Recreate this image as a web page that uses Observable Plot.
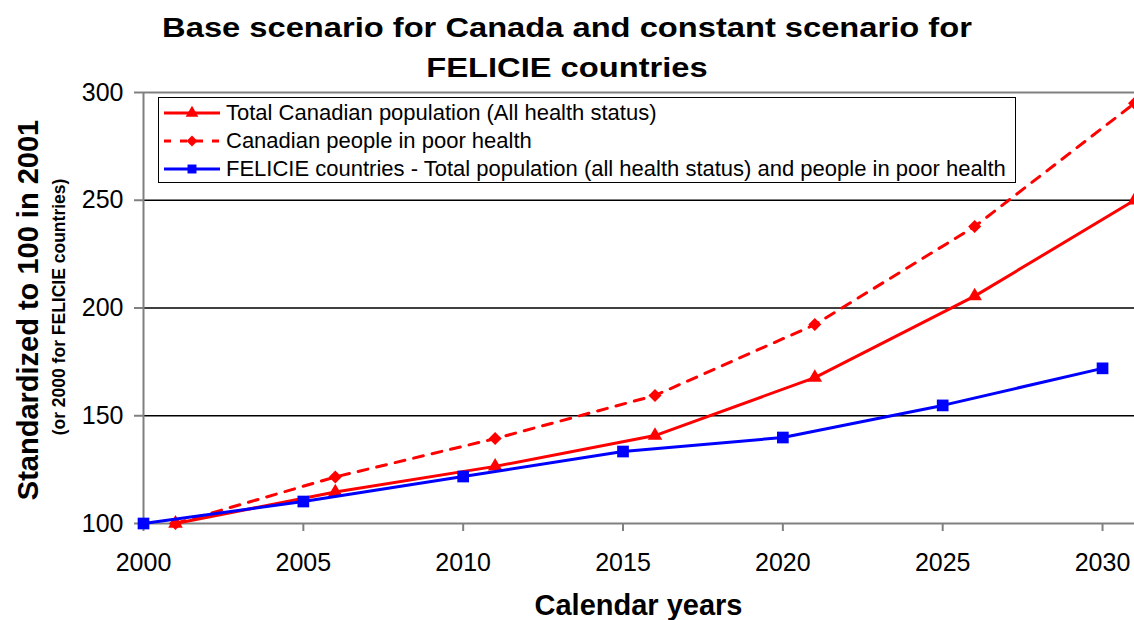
<!DOCTYPE html>
<html><head><meta charset="utf-8">
<script src="https://cdn.jsdelivr.net/npm/d3@7"></script>
<script src="https://cdn.jsdelivr.net/npm/@observablehq/plot@0.6"></script>
<style>
body{margin:0;width:1134px;height:620px;overflow:hidden;background:#fff;font-family:"Liberation Sans",Arial,sans-serif;position:relative}
#chart{position:absolute;left:0;top:0}
#title{position:absolute;top:8px;left:0;width:1134px;text-align:center;font-weight:bold;font-size:27px;line-height:40px;color:#000;transform:scaleX(1.21);transform-origin:567px 0}
#xlabel{position:absolute;top:588px;left:0;width:1134px;padding-left:143px;box-sizing:border-box;text-align:center;font-weight:bold;font-size:29px;line-height:34px}
.ylab{position:absolute;white-space:nowrap;font-weight:bold;transform:translate(-50%,-50%) rotate(-90deg);line-height:1}
#legend{position:absolute;left:158px;top:97px;width:858px;height:86px;border:1px solid #000;background:#fff;box-sizing:border-box}
.row{position:absolute;left:4px;height:28px;display:flex;align-items:center;font-size:22px;white-space:nowrap}
.row svg{margin-right:5px}
</style></head>
<body>
<div id="chart"></div>
<div id="title">Base scenario for Canada and constant scenario for<br>FELICIE countries</div>
<div class="ylab" style="left:28px;top:310px;font-size:29px">Standardized to 100 in 2001</div>
<div class="ylab" style="left:60px;top:307px;font-size:17.5px">(or 2000 for FELICIE countries)</div>
<div id="xlabel">Calendar years</div>
<div id="legend"></div>
<script>
const canYears = [2001, 2006, 2011, 2016, 2021, 2026, 2031];
const canTotal = [100, 114.6, 126.5, 140.8, 167.7, 205.5, 250];
const canPoor  = [100, 121.6, 139.4, 159.4, 192.3, 237.8, 295];
const felYears = [2000, 2005, 2010, 2015, 2020, 2025, 2030];
const felTotal = [100, 110.2, 121.8, 133.4, 139.9, 154.8, 172];
const xTicks = [2000, 2005, 2010, 2015, 2020, 2025, 2030];
const yTicks = [100, 150, 200, 250, 300];
const seriesNames = [
  "Total Canadian population (All health status)",
  "Canadian people in poor health",
  "FELICIE countries - Total population (all health status) and people in poor health"
];

const tot = canYears.map((x, i) => ({x, y: canTotal[i]}));
const poor = canYears.map((x, i) => ({x, y: canPoor[i]}));
const fel = felYears.map((x, i) => ({x, y: felTotal[i]}));

const diamond = {draw(ctx, size){ const r = Math.sqrt(size / 2); ctx.moveTo(0, -r); ctx.lineTo(r, 0); ctx.lineTo(0, r); ctx.lineTo(-r, 0); ctx.closePath(); }};

const chart = Plot.plot({
  width: 1134, height: 620,
  marginLeft: 143, marginRight: 0, marginTop: 92, marginBottom: 97,
  style: {fontFamily: '"Liberation Sans", Arial, sans-serif', color: "#000", background: "transparent", overflow: "visible"},
  x: {domain: [2000, 2031]},
  y: {domain: [100, 300]},
  marks: [
    Plot.ruleY([150, 200, 250], {stroke: "#000", strokeWidth: 1.3}),
    Plot.ruleY([300], {stroke: "#808080", strokeWidth: 2}),
    Plot.axisY({ticks: yTicks, tickSize: 9, tickPadding: 11, fontSize: 25, label: null, stroke: "#808080", fill: "#000", strokeWidth: 2}),
    Plot.axisX({ticks: xTicks, tickFormat: "d", tickSize: 8, tickPadding: 22, fontSize: 25, label: null, stroke: "#808080", fill: "#000", strokeWidth: 2}),
    Plot.ruleX([2000], {stroke: "#808080", strokeWidth: 2}),
    Plot.ruleY([100], {stroke: "#808080", strokeWidth: 2}),
    Plot.line(poor, {x: "x", y: "y", stroke: "#ff0000", strokeWidth: 3, strokeDasharray: "10,9"}),
    Plot.dot(poor, {x: "x", y: "y", symbol: diamond, r: 5.2, fill: "#ff0000", stroke: "none"}),
    Plot.line(tot, {x: "x", y: "y", stroke: "#ff0000", strokeWidth: 3}),
    Plot.dot(tot, {x: "x", y: "y", symbol: "triangle", r: 5.4, fill: "#ff0000", stroke: "none"}),
    Plot.line(fel, {x: "x", y: "y", stroke: "#0000ff", strokeWidth: 3}),
    Plot.dot(fel, {x: "x", y: "y", symbol: "square", r: 6.6, fill: "#0000ff", stroke: "none"})
  ]
});
document.getElementById("chart").appendChild(chart);

// legend
const leg = document.getElementById("legend");
const legStyles = [
  {color: "#ff0000", dash: null, sym: d3.symbolTriangle, size: 70},
  {color: "#ff0000", dash: "7,9", sym: diamond, size: 60},
  {color: "#0000ff", dash: null, sym: d3.symbolSquare, size: 80}
];
seriesNames.forEach((name, i) => {
  const row = document.createElement("div");
  row.className = "row";
  row.style.top = (1 + i * 28) + "px";
  const st = legStyles[i];
  const sv = d3.create("svg").attr("width", 58).attr("height", 20);
  sv.append("line").attr("x1", 1).attr("x2", 57).attr("y1", 10).attr("y2", 10)
    .attr("stroke", st.color).attr("stroke-width", 3).attr("stroke-dasharray", st.dash);
  sv.append("path").attr("transform", "translate(29,10)").attr("d", d3.symbol(st.sym, st.size)()).attr("fill", st.color);
  row.appendChild(sv.node());
  const t = document.createElement("span");
  t.textContent = name;
  row.appendChild(t);
  leg.appendChild(row);
});
</script>
</body></html>
